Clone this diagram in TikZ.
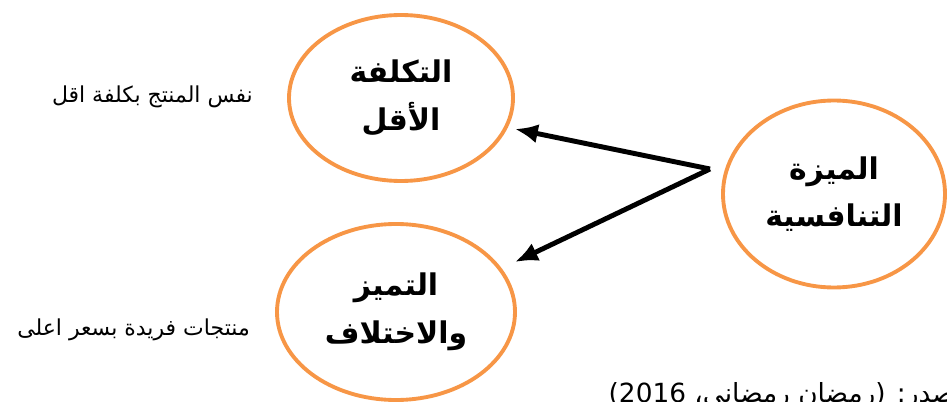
\documentclass[tikz,border=0pt]{standalone}
\usepackage{fontspec}
\newfontfamily\arabicfont[Script=Arabic]{DejaVu Sans}
\TeXXeTstate=1
\usetikzlibrary{shapes.geometric,arrows.meta}
\definecolor{ovalorange}{RGB}{247,150,70}
\tikzset{
  oval/.style={ellipse, draw=ovalorange, line width=2.2pt, inner sep=0pt,
    align=center, font=\arabicfont\bfseries\fontsize{17}{27}\selectfont},
  note/.style={font=\arabicfont\fontsize{12.5}{14}\selectfont, anchor=east},
  link/.style={line width=2.8pt, -{Latex[length=13pt,width=11pt]}}
}
\begin{document}
\begin{tikzpicture}
  \useasboundingbox (0,0) rectangle (18.94,8.02);

  \node[oval, minimum width=4.48cm, minimum height=3.32cm] (cost) at (8.02,6.06)
    {\beginR التكلفة\endR\\\beginR الأقل\endR};
  \node[oval, minimum width=4.76cm, minimum height=3.52cm] (diff) at (7.92,1.78)
    {\beginR التميز\endR\\\beginR والاختلاف\endR};
  \node[oval, minimum width=4.44cm, minimum height=3.74cm] (adv) at (16.68,4.14)
    {\beginR الميزة\endR\\\beginR التنافسية\endR};

  \node[note] (costnote) at (5.18,6.08) {\beginR نفس المنتج بكلفة اقل\endR};
  \node[note] (diffnote) at (5.12,1.42) {\beginR منتجات فريدة بسعر اعلى\endR};

  \node[font=\arabicfont\fontsize{15}{17}\selectfont, anchor=base west] (source) at (12.05,-0.02)
    {\beginR المصدر: (رمضان رمضاني، \beginL 2016\endL)\endR};

  \coordinate (apex) at (14.2,4.64);
  \coordinate (costtip) at (10.3,5.44);
  \coordinate (difftip) at (10.3,2.78);
  \draw[link] (apex) -- (costtip);
  \draw[link] (apex) -- (difftip);
\end{tikzpicture}
\end{document}
